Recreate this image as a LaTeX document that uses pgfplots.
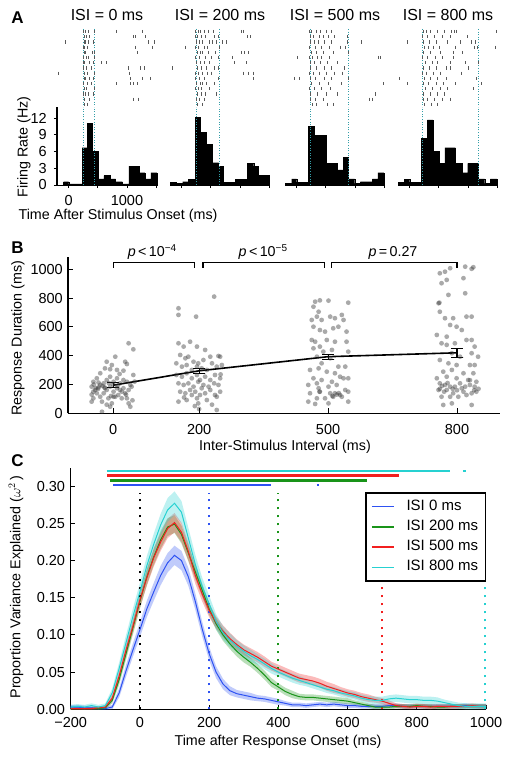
\documentclass[border=0pt]{standalone}
\usepackage{fontspec}
\setmainfont{Liberation Sans}
\usepackage{pgfplots}
\usepackage{pgfplotstable}
\pgfplotsset{compat=1.18}
\definecolor{cb}{rgb}{0.18,0.32,0.95}
\definecolor{cg}{rgb}{0.10,0.58,0.10}
\definecolor{cr}{rgb}{0.95,0.12,0.12}
\definecolor{cc}{rgb}{0.15,0.82,0.82}
\definecolor{tl}{rgb}{0.20,0.62,0.66}
\newcommand{\tickfont}{\fontsize{14.5}{17}\selectfont}
\newcommand{\lblfont}{\fontsize{14.3}{17}\selectfont}
\pgfplotstableread{
t b be g ge r re c ce
-200 0.003 0.003 0.001 0.002 0.001 0.002 0.003 0.003
-180 0.003 0.003 0.001 0.002 0.001 0.002 0.004 0.003
-160 0.002 0.003 0.001 0.002 0.001 0.002 0.003 0.003
-140 0.002 0.003 0.001 0.002 0.001 0.002 0.005 0.003
-120 0.001 0.003 0.001 0.002 0.002 0.002 0.003 0.003
-100 0.001 0.002 0.002 0.002 0.003 0.002 0.005 0.003
-80 0.003 0.003 0.012 0.004 0.015 0.005 0.022 0.006
-60 0.022 0.006 0.040 0.007 0.045 0.007 0.055 0.008
-40 0.052 0.008 0.075 0.008 0.080 0.008 0.090 0.010
-20 0.080 0.009 0.110 0.009 0.112 0.009 0.125 0.011
0 0.107 0.010 0.145 0.010 0.147 0.010 0.158 0.012
20 0.135 0.011 0.178 0.011 0.177 0.011 0.193 0.013
40 0.158 0.012 0.205 0.011 0.204 0.012 0.222 0.014
60 0.180 0.013 0.228 0.012 0.225 0.012 0.248 0.015
80 0.197 0.013 0.245 0.012 0.243 0.013 0.268 0.016
100 0.207 0.013 0.249 0.012 0.251 0.013 0.277 0.016
120 0.200 0.013 0.235 0.012 0.238 0.013 0.265 0.015
140 0.178 0.012 0.210 0.011 0.212 0.012 0.230 0.014
160 0.145 0.011 0.185 0.010 0.180 0.011 0.195 0.013
180 0.108 0.010 0.160 0.009 0.155 0.010 0.165 0.012
200 0.075 0.009 0.135 0.008 0.133 0.009 0.142 0.011
220 0.050 0.008 0.115 0.008 0.117 0.008 0.118 0.010
240 0.034 0.007 0.100 0.008 0.105 0.008 0.103 0.009
260 0.025 0.006 0.088 0.007 0.095 0.008 0.093 0.009
280 0.021 0.005 0.078 0.007 0.087 0.007 0.085 0.008
300 0.019 0.005 0.070 0.007 0.080 0.007 0.078 0.008
320 0.017 0.005 0.063 0.006 0.075 0.007 0.072 0.008
340 0.015 0.004 0.055 0.006 0.070 0.007 0.067 0.007
360 0.014 0.004 0.046 0.006 0.064 0.007 0.061 0.007
380 0.012 0.004 0.036 0.006 0.058 0.006 0.055 0.007
400 0.010 0.004 0.030 0.005 0.054 0.006 0.050 0.006
420 0.008 0.003 0.024 0.005 0.050 0.006 0.046 0.006
440 0.006 0.003 0.020 0.005 0.046 0.006 0.042 0.006
460 0.006 0.003 0.017 0.004 0.042 0.006 0.039 0.006
480 0.005 0.003 0.016 0.004 0.040 0.006 0.036 0.005
500 0.006 0.003 0.016 0.004 0.038 0.006 0.033 0.005
520 0.007 0.003 0.015 0.004 0.035 0.006 0.030 0.005
540 0.006 0.003 0.014 0.004 0.031 0.006 0.027 0.005
560 0.007 0.003 0.013 0.004 0.028 0.006 0.025 0.005
580 0.006 0.003 0.012 0.004 0.025 0.005 0.022 0.005
600 0.005 0.003 0.011 0.004 0.022 0.005 0.020 0.005
620 0.005 0.003 0.009 0.003 0.020 0.005 0.018 0.005
640 0.004 0.003 0.007 0.003 0.017 0.005 0.015 0.005
660 0.004 0.003 0.005 0.003 0.015 0.005 0.013 0.005
680 0.004 0.003 0.003 0.003 0.013 0.004 0.012 0.005
700 0.004 0.003 0.003 0.003 0.011 0.004 0.012 0.005
720 0.005 0.003 0.003 0.003 0.008 0.004 0.014 0.005
740 0.005 0.003 0.004 0.003 0.005 0.003 0.015 0.005
760 0.004 0.003 0.004 0.003 0.004 0.003 0.014 0.005
780 0.004 0.003 0.004 0.003 0.003 0.003 0.013 0.005
800 0.004 0.003 0.005 0.003 0.004 0.003 0.013 0.005
820 0.004 0.003 0.004 0.003 0.004 0.003 0.012 0.005
840 0.004 0.003 0.004 0.003 0.003 0.003 0.012 0.005
860 0.004 0.003 0.003 0.003 0.004 0.003 0.011 0.005
880 0.004 0.003 0.003 0.003 0.004 0.003 0.009 0.004
900 0.004 0.003 0.004 0.003 0.004 0.003 0.007 0.004
920 0.004 0.003 0.004 0.003 0.004 0.003 0.005 0.004
940 0.005 0.003 0.004 0.003 0.004 0.003 0.004 0.004
960 0.004 0.003 0.004 0.003 0.005 0.003 0.004 0.004
980 0.004 0.003 0.004 0.003 0.004 0.003 0.004 0.004
1000 0.004 0.003 0.004 0.003 0.004 0.003 0.004 0.004
}\Cdata
\pgfplotsset{
 histax/.style={scale only axis, width=100pt, height=78pt, xmin=-200, xmax=1515, ymin=0, ymax=14,
   anchor=south west, axis x line=bottom, axis y line=left, axis line style={-, line width=1pt},
   xtick={0,500,1000,1500}, ytick={0,3,6,9,12}, tick align=outside, major tick length=3pt,
   tick style={black, line width=0.8pt}, ticklabel style={font=\tickfont},
   /pgf/number format/assume math mode=true, clip=false,
   xticklabel style={anchor=north, inner sep=0pt, yshift=-7pt},
   yticklabel style={anchor=east, inner sep=0pt, xshift=-7pt}},
 histnoy/.style={axis y line=none, ytick=\empty, xticklabels=\empty},
 rastax/.style={scale only axis, width=100pt, height=78pt, xmin=-200, xmax=1515, ymin=0.5, ymax=15.5,
   y dir=reverse, anchor=south west, hide axis, clip=false},
 spk/.style={only marks, mark=|, mark size=1.6pt, black!65, mark options={line width=0.45pt}},
 hbar/.style={const plot, fill=black, draw=black, line width=0.3pt},
 vline/.style={tl, dash pattern=on 1pt off 1.6pt, line width=0.9pt},
 cdot/.style={line width=2pt, dash pattern=on 2pt off 6pt},
 bandlo/.style={draw=none, stack plots=y},
 ebar/.style={black, line width=1.1pt, mark=none},
}
\begin{document}
\begin{tikzpicture}
\useasboundingbox (0pt,0pt) rectangle (511pt,-760pt);
% ---------------- Panel A ----------------
\node[font=\bfseries\fontsize{17}{20}\selectfont] at (17.5pt,-17.5pt) {A};
\node[anchor=base, font=\fontsize{16}{19}\selectfont] at (107pt,-21pt) {ISI = 0 ms};
\node[anchor=base, font=\fontsize{16}{19}\selectfont] at (220pt,-21pt) {ISI = 200 ms};
\node[anchor=base, font=\fontsize{16}{19}\selectfont] at (335pt,-21pt) {ISI = 500 ms};
\node[anchor=base, font=\fontsize{16}{19}\selectfont] at (448pt,-21pt) {ISI = 800 ms};
\node[rotate=90, font=\lblfont] at (24pt,-147pt) {Firing Rate (Hz)};
\node[font=\lblfont] at (118pt,-216pt) {Time After Stimulus Onset (ms)};

% panel 1
\begin{axis}[rastax, at={(57pt,-107pt)}]
\addplot[spk] coordinates {(255,1) (290,1) (330,1) (430,1) (810,1) (1270,1)
(260,2) (300,2) (360,2) (1110,2) (1150,2) (1320,2)
(-60,3) (265,3) (285,3) (340,3) (420,3) (1370,3) (1460,3)
(250,4) (270,4) (310,4) (1150,4) (1440,4)
(260,5) (280,5) (400,5) (445,5) (1170,5)
(255,6) (295,6) (330,6) (430,6)
(245,7) (275,7) (350,7) (420,7) (560,7) (640,7)
(250,8) (300,8) (380,8) (1030,8) (1220,8) (1290,8)
(-180,9) (260,9) (320,9) (440,9) (1040,9)
(270,10) (290,10) (360,10) (420,10) (1050,10) (1270,10) (1400,10)
(255,11) (310,11) (390,11) (810,11) (1050,11) (1110,11) (1170,11)
(265,12) (300,12) (440,12)
(250,13) (280,13) (330,13) (420,13)
(260,14) (350,14) (1100,14) (1200,14)
(270,15) (310,15)};
\addplot[vline] coordinates {(247,0.5) (247,15.5)};
\addplot[vline] coordinates {(443,0.5) (443,15.5)};
\end{axis}
\begin{axis}[histax, at={(57pt,-185pt)}, xticklabels={0,,1000,}]
\addplot[hbar] coordinates {(-86,0.6) (0,0.2) (230,6.7) (316,11.1) (402,6.1) (500,1.1) (603,1.7) (718,1.1) (805,0.6) (920,0.2) (1034,3.4) (1207,2.2) (1305,1.1) (1408,2.2) (1511,2.2)} \closedcycle;
\addplot[vline] coordinates {(247,0) (247,14)};
\addplot[vline] coordinates {(443,0) (443,14)};
\end{axis}

% panel 2
\begin{axis}[rastax, at={(170pt,-107pt)}]
\addplot[spk] coordinates {(240,1) (280,1) (320,1) (380,1) (450,1) (540,1) (1030,1) (1060,1)
(230,2) (270,2) (330,2) (410,2) (560,2) (620,2) (1120,2) (1180,2)
(250,3) (300,3) (350,3) (470,3) (520,3) (600,3) (700,3) (760,3)
(60,4) (240,4) (290,4) (380,4) (430,4) (640,4)
(260,5) (310,5) (360,5) (450,5) (580,5) (1030,5) (1070,5) (1150,5)
(240,6) (300,6) (400,6) (500,6) (620,6) (860,6)
(250,7) (320,7) (380,7) (470,7) (900,7) (1100,7)
(-170,8) (270,8) (330,8) (420,8) (550,8) (630,8)
(235,9) (290,9) (360,9) (430,9) (510,9) (1050,9) (1150,9) (1230,9)
(240,10) (300,10) (390,10) (620,10) (1220,10)
(250,11) (310,11) (350,11) (420,11) (560,11)
(230,12) (280,12) (340,12) (480,12)
(260,13) (330,13) (400,13) (590,13)
(245,14) (300,14) (380,14)
(270,15) (350,15)};
\addplot[vline] coordinates {(246,0.5) (246,15.5)};
\addplot[vline] coordinates {(640,0.5) (640,15.5)};
\end{axis}
\begin{axis}[histax, histnoy, at={(170pt,-185pt)}]
\addplot[hbar] coordinates {(-200,0.5) (-86,0.3) (17,0.6) (115,1.0) (230,12.2) (316,9.5) (420,7.3) (517,4.0) (632,3.4) (718,0.5) (920,1.0) (1121,3.9) (1236,3.4) (1310,1.7) (1500,1.7)} \closedcycle;
\addplot[vline] coordinates {(246,0) (246,14)};
\addplot[vline] coordinates {(640,0) (640,14)};
\end{axis}

% panel 3
\begin{axis}[rastax, at={(285pt,-107pt)}]
\addplot[spk] coordinates {(210,1) (250,1) (330,1) (410,1) (500,1) (590,1)
(230,2) (280,2) (390,2) (460,2) (540,2) (640,2) (860,2)
(240,3) (300,3) (370,3) (470,3) (600,3) (870,3) (1110,3)
(220,4) (310,4) (420,4) (560,4) (740,4) (830,4)
(250,5) (330,5) (460,5) (630,5) (880,5)
(10,6) (215,6) (260,6) (350,6) (420,6) (560,6) (1400,6) (1440,6)
(230,7) (300,7) (400,7) (520,7) (700,7)
(240,8) (340,8) (480,8) (600,8) (820,8)
(210,9) (280,9) (390,9) (500,9) (650,9) (780,9)
(-50,10) (40,10) (230,10) (320,10) (470,10) (600,10) (880,10)
(250,11) (380,11) (540,11) (760,11) (1480,11)
(220,12) (300,12) (420,12) (580,12)
(240,13) (360,13) (500,13) (690,13) (1350,13)
(230,14) (310,14) (450,14) (1240,14) (1300,14)
(260,15) (340,15) (520,15) (620,15)};
\addplot[vline] coordinates {(228,0.5) (228,15.5)};
\addplot[vline] coordinates {(882,0.5) (882,15.5)};
\end{axis}
\begin{axis}[histax, histnoy, at={(285pt,-185pt)}]
\addplot[hbar] coordinates {(-200,0.3) (-85,1.1) (0,0.5) (200,10.5) (296,8.9) (500,3.9) (694,2.7) (797,5.0) (882,1.1) (996,0.3) (1092,0.6) (1297,1.1) (1394,2.2) (1497,2.2)} \closedcycle;
\addplot[vline] coordinates {(228,0) (228,14)};
\addplot[vline] coordinates {(882,0) (882,14)};
\end{axis}

% panel 4
\begin{axis}[rastax, at={(398pt,-107pt)}]
\addplot[spk] coordinates {(240,1) (290,1) (350,1) (480,1) (600,1) (720,1) (760,1) (790,1) (1480,1)
(220,2) (300,2) (420,2) (560,2) (700,2) (980,2)
(-40,3) (230,3) (330,3) (450,3) (640,3) (860,3) (1050,3) (1120,3)
(250,4) (320,4) (410,4) (500,4) (780,4) (1100,4) (1160,4) (1470,4)
(230,5) (360,5) (520,5) (740,5) (900,5)
(220,6) (300,6) (430,6) (560,6) (750,6)
(260,7) (380,7) (480,7) (690,7) (950,7) (1170,7)
(240,8) (330,8) (460,8) (620,8) (700,8) (1010,8)
(220,9) (290,9) (410,9) (530,9) (880,9)
(-180,10) (250,10) (350,10) (470,10) (620,10) (1150,10)
(-40,11) (230,11) (320,11) (450,11) (580,11) (780,11) (1230,11)
(260,12) (380,12) (520,12) (640,12) (1090,12)
(240,13) (350,13) (470,13) (600,13)
(230,14) (300,14) (420,14) (560,14) (700,14)
(250,15) (370,15) (480,15)};
\addplot[vline] coordinates {(216,0.5) (216,15.5)};
\addplot[vline] coordinates {(1172,0.5) (1172,15.5)};
\end{axis}
\begin{axis}[histax, histnoy, at={(398pt,-185pt)}]
\addplot[hbar] coordinates {(-200,0.5) (-97,1.0) (0,0.5) (205,8.4) (302,11.7) (398,6.1) (500,3.9) (603,6.7) (785,3.9) (899,2.2) (996,3.9) (1183,1.1) (1286,0.3) (1383,1.1) (1497,1.1)} \closedcycle;
\addplot[vline] coordinates {(216,0) (216,14)};
\addplot[vline] coordinates {(1172,0) (1172,14)};
\end{axis}

% ---------------- Panel B ----------------
\node[font=\bfseries\fontsize{17}{20}\selectfont] at (17.5pt,-247.5pt) {B};
\node[rotate=90, font=\lblfont] at (18pt,-338pt) {Response Duration (ms)};
\node[font=\lblfont] at (285pt,-447pt) {Inter-Stimulus Interval (ms)};
\begin{axis}[scale only axis, width=432pt, height=156.6pt, anchor=south west, at={(68pt,-413.3pt)},
  xmin=-105, xmax=900, ymin=0, ymax=1087, axis lines=left, axis line style={-, line width=1.3pt},
  xtick={0,200,500,800}, ytick={0,200,400,600,800,1000}, tick align=inside, major tick length=5pt,
  tick style={black, line width=0.9pt}, ticklabel style={font=\tickfont},
  /pgf/number format/assume math mode=true, /pgf/number format/1000 sep={}, clip=false,
  xticklabel style={anchor=north, inner sep=0pt, yshift=-10.5pt},
  yticklabel style={anchor=east, inner sep=0pt, xshift=-5pt}]
\addplot[only marks, mark=*, mark size=2.4pt, color=black!75, mark options={fill=black!80, draw opacity=0, fill opacity=0.42, line width=0pt}] coordinates {
(36,486) (47,444) (28,358) (32,342) (5,393) (-15,358) (-7,306) (9,301) (-30,278) (-19,312) (-46,219) (-38,243) (-50,185) (-42,162) (-34,180) (-30,197) (-22,208) (-15,231) (-7,254) (1,219) (9,243) (16,208) (24,231) (32,219) (40,197) (47,266) (43,185) (36,162) (28,139) (16,162) (9,174) (1,150) (-7,185) (-15,162) (-22,139) (-30,115) (-38,139) (-46,104) (-50,81) (-26,81) (-11,104) (5,115) (20,104) (32,104) (40,46) (36,69) (-7,46) (-3,69) (-26,11) (12,127) (24,174) (-19,174) (1,115) (-46,150) (-34,213) (15,273) (24,296) (-3,335) (-40,175) (-35,170) (-25,190) (-20,180) (-45,200) (-10,210) (0,200) (10,190) (20,150) (30,130) (-50,130) (45,90) (-15,60) (50,220) (-5,120)
(152,729) (152,683) (193,671) (235,810) (152,486) (179,497) (164,463) (195,463) (214,440) (226,393) (245,398) (249,393) (156,405) (168,382) (175,393) (187,358) (198,347) (210,370) (147,347) (160,324) (171,335) (183,301) (195,324) (206,312) (218,301) (230,347) (241,324) (253,335) (147,266) (160,254) (171,278) (183,243) (195,266) (202,231) (214,254) (226,231) (237,266) (249,243) (152,208) (164,197) (175,208) (187,185) (198,219) (210,197) (222,185) (235,208) (245,197) (156,150) (168,139) (179,162) (191,150) (202,127) (214,139) (226,162) (237,127) (249,150) (152,81) (171,92) (195,104) (198,69) (218,92) (241,23) (183,127) (206,174) (241,115) (200,30) (190,50) (230,60) (165,110) (250,270)
(470,775) (481,784) (501,782) (547,768) (466,740) (478,705) (474,671) (462,648) (485,648) (505,671) (516,660) (532,683) (536,648) (466,601) (481,578) (493,567) (512,590) (524,601) (543,567) (462,509) (470,497) (497,509) (516,497) (543,497) (466,451) (481,463) (489,428) (509,440) (547,428) (474,393) (485,347) (505,382) (524,324) (540,324) (458,301) (478,312) (497,289) (516,278) (528,254) (466,243) (485,231) (509,219) (536,243) (547,243) (454,197) (474,208) (478,174) (501,185) (520,197) (540,162) (458,139) (481,150) (505,139) (516,139) (528,127) (547,150) (474,104) (493,104) (512,115) (532,115) (454,81) (470,65) (501,69) (547,81) (520,130) (525,140) (480,150) (510,120)
(760,972) (772,983) (784,1007) (764,903) (776,926) (819,1018) (834,1003) (838,1014) (815,938) (780,822) (819,833) (757,764) (760,705) (772,660) (791,660) (822,671) (834,671) (784,613) (799,601) (811,578) (753,544) (776,532) (822,509) (834,509) (764,486) (776,475) (795,486) (841,463) (788,417) (807,393) (834,417) (849,393) (760,370) (780,347) (799,335) (830,335) (841,335) (768,289) (788,301) (815,278) (838,278) (753,243) (776,254) (799,243) (826,231) (845,219) (760,208) (772,197) (784,185) (807,208) (830,197) (841,185) (757,162) (776,162) (791,139) (815,150) (834,139) (845,150) (764,115) (784,115) (803,115) (822,127) (768,58) (788,69) (834,58) (795,185) (811,174) (819,185) (760,170) (765,190) (770,150) (790,170) (800,160) (840,160) (850,170) (778,210) (830,230) (759,768)
};
\addplot[black, line width=1.6pt, mark=none] coordinates {(0,195) (200,295) (500,393) (800,420)};
\addplot[ebar] coordinates {(-14,178) (14,178) (0,178) (0,212) (-14,212) (14,212)};
\addplot[ebar] coordinates {(186,277) (214,277) (200,277) (200,313) (186,313) (214,313)};
\addplot[ebar] coordinates {(486,376) (514,376) (500,376) (500,410) (486,410) (514,410)};
\addplot[ebar] coordinates {(786,389) (814,389) (800,389) (800,451) (786,451) (814,451)};
\addplot[black, line width=1.2pt] coordinates {(0,1010) (0,1044) (190,1044) (190,1010)};
\addplot[black, line width=1.2pt] coordinates {(209,1010) (209,1044) (491,1044) (491,1010)};
\addplot[black, line width=1.2pt] coordinates {(508,1010) (508,1044) (800,1044) (800,1010)};
\node[anchor=base, font=\lblfont] at (axis cs:91,1085) {\textit{p}\,<\,10\textsuperscript{−4}};
\node[anchor=base, font=\lblfont] at (axis cs:349,1085) {\textit{p}\,<\,10\textsuperscript{−5}};
\node[anchor=base, font=\lblfont] at (axis cs:651,1085) {\textit{p}\,=\,0.27};
\end{axis}

% ---------------- Panel C ----------------
\node[font=\bfseries\fontsize{17}{20}\selectfont] at (17.5pt,-461pt) {C};
\node[rotate=90, font=\lblfont] at (16pt,-587pt) {Proportion Variance Explained ($\omega^2$\,)};
\node[font=\lblfont] at (278pt,-742pt) {Time after Response Onset (ms)};
\begin{axis}[scale only axis, width=415.3pt, height=241pt, anchor=south west, at={(70.7pt,-709.3pt)},
  xmin=-200, xmax=1000, ymin=0, ymax=0.324, axis lines=left, axis line style={-, line width=1.5pt},
  xtick={-200,0,200,400,600,800,1000}, xticklabels={−200,0,200,400,600,800,1000},
  ytick={0,0.05,0.1,0.15,0.2,0.25,0.3}, yticklabels={0.00,0.05,0.10,0.15,0.20,0.25,0.30},
  tick align=inside, major tick length=4pt, tick style={black, line width=0.9pt},
  ticklabel style={font=\tickfont},
  xticklabel style={anchor=north, inner sep=0pt, yshift=-7.5pt},
  yticklabel style={anchor=east, inner sep=0pt, xshift=-5.5pt},
  legend style={at={(1,0.9015)}, anchor=north east, draw=black, line width=1.5pt, fill=white,
    font=\fontsize{15}{18}\selectfont, inner xsep=5pt, inner ysep=3.5pt, row sep=0pt,
    nodes={inner xsep=2pt, inner ysep=3pt, text height=10.8pt, text depth=3.5pt},
    /tikz/every odd column/.append style={column sep=10pt}},
  legend cell align=left,
  legend image code/.code={\draw[#1, line width=1.6pt] (7pt,0pt) -- (29pt,0pt);}]
% bands (stacked: lower edge, then width, then reset)
\addplot[bandlo, forget plot] table[x=t, y expr=\thisrow{b}-\thisrow{be}] {\Cdata};
\addplot[bandlo, fill=cb, fill opacity=0.3, forget plot] table[x=t, y expr=2*\thisrow{be}] {\Cdata} \closedcycle;
\addplot[bandlo, forget plot] table[x=t, y expr=-\thisrow{b}-\thisrow{be}] {\Cdata};
\addplot[bandlo, forget plot] table[x=t, y expr=\thisrow{g}-\thisrow{ge}] {\Cdata};
\addplot[bandlo, fill=cg, fill opacity=0.3, forget plot] table[x=t, y expr=2*\thisrow{ge}] {\Cdata} \closedcycle;
\addplot[bandlo, forget plot] table[x=t, y expr=-\thisrow{g}-\thisrow{ge}] {\Cdata};
\addplot[bandlo, forget plot] table[x=t, y expr=\thisrow{r}-\thisrow{re}] {\Cdata};
\addplot[bandlo, fill=cr, fill opacity=0.3, forget plot] table[x=t, y expr=2*\thisrow{re}] {\Cdata} \closedcycle;
\addplot[bandlo, forget plot] table[x=t, y expr=-\thisrow{r}-\thisrow{re}] {\Cdata};
\addplot[bandlo, forget plot] table[x=t, y expr=\thisrow{c}-\thisrow{ce}] {\Cdata};
\addplot[bandlo, fill=cc, fill opacity=0.3, forget plot] table[x=t, y expr=2*\thisrow{ce}] {\Cdata} \closedcycle;
\addplot[bandlo, forget plot] table[x=t, y expr=-\thisrow{c}-\thisrow{ce}] {\Cdata};
% dotted verticals
\addplot[black, cdot, forget plot] coordinates {(0,0) (0,0.291)};
\addplot[cb, cdot, forget plot] coordinates {(200,0) (200,0.291)};
\addplot[cg, cdot, forget plot] coordinates {(400,0) (400,0.291)};
\addplot[cr, cdot, forget plot] coordinates {(700,0) (700,0.291)};
\addplot[cc, cdot, forget plot] coordinates {(998,0) (998,0.291)};
% significance bars
\addplot[cc, line width=2.8pt, forget plot] coordinates {(-96,0.3203) (896,0.3203)};
\addplot[cc, line width=2pt, forget plot] coordinates {(934,0.3203) (941,0.3203)};
\addplot[cr, line width=2.8pt, forget plot] coordinates {(-94,0.314) (750,0.314)};
\addplot[cg, line width=2.8pt, forget plot] coordinates {(-86,0.3078) (657,0.3078)};
\addplot[cb, line width=2.8pt, forget plot] coordinates {(-77,0.3015) (379,0.3015)};
\addplot[cb, line width=2pt, forget plot] coordinates {(511,0.3015) (518,0.3015)};
% mean lines
\addplot[cb, line width=1pt] table[x=t, y=b] {\Cdata};
\addlegendentry{ISI 0 ms}
\addplot[cg, line width=1pt] table[x=t, y=g] {\Cdata};
\addlegendentry{ISI 200 ms}
\addplot[cr, line width=1pt] table[x=t, y=r] {\Cdata};
\addlegendentry{ISI 500 ms}
\addplot[cc, line width=1pt] table[x=t, y=c] {\Cdata};
\addlegendentry{ISI 800 ms}
\end{axis}
\end{tikzpicture}
\end{document}
